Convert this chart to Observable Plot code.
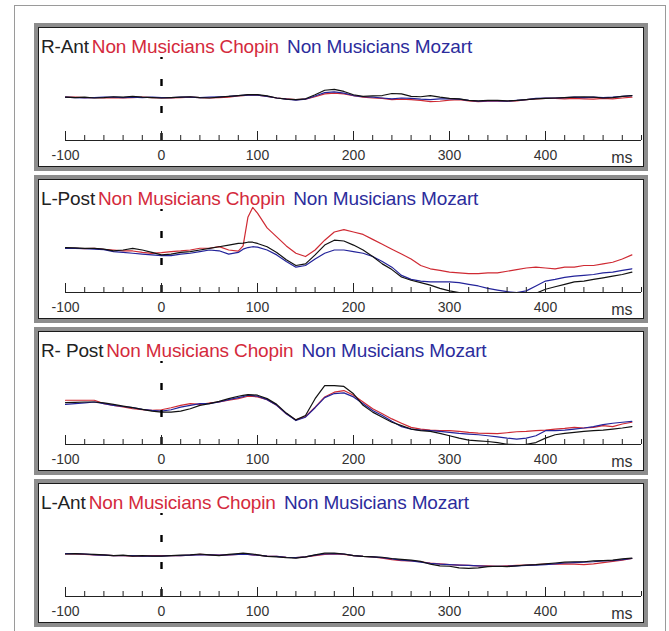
<!DOCTYPE html>
<html><head><meta charset="utf-8">
<script src="https://cdn.jsdelivr.net/npm/d3@7"></script>
<script src="https://cdn.jsdelivr.net/npm/@observablehq/plot@0.6"></script>
<style>
body{margin:0;background:#fff;font-family:"Liberation Sans",Arial,sans-serif;}
#frame{position:absolute;left:14px;top:5px;width:652px;height:700px;border:1px solid #9a9a9a;border-bottom:none;box-sizing:border-box;}
.panel{position:absolute;left:34px;border:4px solid #8d8d8d;}
.inner{position:relative;width:604px;height:138px;border:1px solid #1a1a1a;background:#fff;overflow:hidden;}
.inner svg{position:absolute;left:0;top:0;}
.title{position:absolute;left:2px;top:8px;font-size:19px;line-height:22px;letter-spacing:-0.15px;white-space:nowrap;z-index:2;color:#222;}
.title span+span{margin-left:3px;}
.c{color:#d42a3c}.m{color:#2c2c9c}
</style></head>
<body>
<div id="frame"></div>
<div id="root"></div>
<script>
// time points (ms)
const times = [-100,-90,-80,-70,-60,-50,-40,-30,-20,-10,0,10,20,30,40,50,60,70,80,85,90,95,100,110,120,130,140,150,160,170,180,190,200,210,220,230,240,250,260,270,280,290,300,310,320,330,340,350,360,370,380,390,400,410,420,430,440,450,460,470,480,490];

const panelNames = ["R-Ant", "L-Post", "R- Post", "L-Ant"];
const chopinLabel = "Non Musicians Chopin";
const mozartLabel = "Non Musicians Mozart";
const majorTicks = [-100, 0, 100, 200, 300, 400];
const tickLabels = ["-100", "0", "100", "200", "300", "400"];
const unitLabel = "ms";

// R-Ant
const rAntChopin = [0.1,0.1,0.05,0.05,0.0,0.05,0.0,0.05,0.1,0.05, 0.0,0.0,0.05,0.1,0.05,0.0,0.05,0.1,0.25, 0.3,0.35,0.35, 0.35,0.2,0.0,-0.1,-0.2,-0.15,0.15,0.5,0.6,0.5, 0.3,0.1,0.0,-0.05,-0.2,-0.15,-0.2,-0.3,-0.45,-0.4, -0.25,-0.2,-0.35,-0.45,-0.4,-0.35,-0.4,-0.35,-0.2,-0.1, -0.05,-0.05,-0.1,-0.05,-0.1,-0.15,-0.05,-0.1,0.0,0.1];
const rAntMozart = [0.1,0.05,0.0,0.05,0.1,0.1,0.05,0.1,0.05,0.1, 0.05,0.05,0.1,0.1,0.05,0.1,0.15,0.2,0.3, 0.32,0.35,0.35, 0.35,0.2,0.0,-0.15,-0.25,-0.15,0.25,0.65,0.75,0.6, 0.3,0.15,0.1,0.0,-0.1,0.0,-0.05,-0.15,-0.2,-0.1, -0.1,-0.15,-0.3,-0.4,-0.35,-0.35,-0.4,-0.3,-0.2,-0.05, 0.0,0.0,0.05,0.1,0.05,0.1,0.05,0.1,0.2,0.3];
const rAntBlack = [0.1,0.05,0.1,0.0,0.05,0.15,0.1,0.2,0.1,0.05, 0.0,0.05,0.1,0.15,0.05,0.0,0.1,0.2,0.3, 0.35,0.4,0.4, 0.4,0.25,0.0,-0.15,-0.2,-0.1,0.4,0.95,1.05,0.8, 0.4,0.2,0.25,0.3,0.55,0.5,0.2,0.15,0.3,0.1, -0.05,-0.1,-0.3,-0.35,-0.3,-0.3,-0.35,-0.3,-0.2,-0.1, -0.05,0.0,0.05,0.1,0.15,0.1,0.0,0.05,0.2,0.3];

// L-Post
const lPostChopin = [0.21,0.21,0.17,0.21,0.08,0,-0.12,-0.12,-0.29,-0.41, -0.33,-0.21,-0.12,0,0.21,0.21,0.41,0.0,-0.15, 0.5,4.0,5.2, 4.5,2.7,1.6,0.5,-0.4,-0.8,0,1.2,2.2,2.5, 2.2,1.9,1.3,0.7,0.1,-0.5,-1.1,-1.9,-2.3,-2.5, -2.7,-2.8,-2.9,-2.9,-2.8,-2.8,-2.6,-2.4,-2.2,-2.1, -2.2,-2.3,-2.1,-2.1,-1.9,-1.9,-1.7,-1.5,-1.1,-0.6];
const lPostMozart = [0.2,0.2,0.15,0.1,0.05,-0.2,-0.3,-0.4,-0.5,-0.6, -0.7,-0.7,-0.5,-0.4,-0.2,0,-0.1,-0.5,-0.3, 0.1,0.3,0.4, 0.35,0,-0.6,-1.4,-2.1,-1.9,-1.1,-0.4,0,0, -0.2,-0.4,-0.8,-1.4,-2.1,-3.1,-3.6,-3.8,-3.9,-3.9, -3.9,-4.0,-4.2,-4.4,-4.7,-4.9,-5.1,-5.2,-5.0,-4.4, -3.8,-3.6,-3.35,-3.2,-3.1,-3.0,-2.8,-2.7,-2.5,-2.3];
const lPostBlack = [0.3,0.25,0.2,0.2,0.1,-0.1,0.0,0.2,0.0,-0.3, -0.6,-0.5,-0.3,-0.2,0.0,0.2,0.4,0.6,0.8, 0.85,0.95,0.95, 0.8,0.4,-0.3,-1.2,-1.9,-1.7,-0.6,0.6,1.2,1.1, 0.6,0,-0.8,-1.7,-2.4,-3.3,-3.7,-4.0,-4.3,-4.7, -5.0,-5.2,-5.3,-5.5,-5.6,-5.7,-5.7,-5.6,-5.5,-5.3, -4.8,-4.5,-4.2,-3.9,-3.8,-3.6,-3.4,-3.2,-3.0,-2.7];

// R-Post
const rPostChopin = [0.21,0.21,0.21,0.21,-0.2,-0.41,-0.6,-0.83,-0.95,-1.03, -0.95,-0.70,-0.41,-0.21,-0.29,-0.12,0,0.21,0.41, 0.55,0.70,0.68, 0.62,0.29,-0.41,-1.45,-2.19,-1.78,-0.62,0.62,1.2,1.4, 0.83,0,-0.83,-1.45,-2.07,-2.60,-3.10,-3.31,-3.43,-3.51, -3.51,-3.60,-3.72,-3.80,-3.84,-3.88,-3.76,-3.64,-3.60,-3.51, -3.43,-3.31,-3.22,-3.10,-3.18,-3.10,-2.89,-3.02,-2.69,-2.48];
const rPostMozart = [-0.29,-0.2,-0.1,0,-0.2,-0.41,-0.55,-0.70,-0.9,-1.03, -1.12,-0.95,-0.62,-0.41,-0.21,-0.21,0,0.29,0.54, 0.65,0.83,0.78, 0.70,0.29,-0.41,-1.45,-2.27,-1.86,-0.70,0.54,1.03,1.12, 0.62,-0.21,-1.03,-1.65,-2.36,-3.02,-3.31,-3.43,-3.51,-3.60, -3.72,-3.84,-3.93,-4.01,-4.13,-4.26,-4.42,-4.55,-4.42,-4.13, -3.51,-3.51,-3.43,-3.31,-3.18,-3.02,-2.77,-2.60,-2.48,-2.36];
const rPostBlack = [-0.08,-0.05,0,0,-0.1,-0.29,-0.5,-0.70,-0.9,-1.12, -1.24,-1.24,-1.12,-0.83,-0.41,-0.21,0.08,0.41,0.70, 0.80,0.91,0.88, 0.83,0.41,-0.29,-1.36,-2.19,-1.65,0.4,2.0,2.0,1.9, 1.0,-0.41,-1.24,-1.86,-2.48,-2.89,-3.31,-3.51,-3.60,-3.84, -4.13,-4.42,-4.67,-4.75,-4.83,-4.96,-5.17,-5.2,-5.17,-4.96, -4.42,-4.01,-3.84,-3.72,-3.60,-3.51,-3.43,-3.31,-3.18,-3.02];

// L-Ant
const lAntChopin = [0,0,-0.05,-0.1,-0.15,-0.2,-0.2,-0.25,-0.25,-0.2, -0.2,-0.2,-0.2,-0.15,-0.05,-0.1,-0.15,-0.1,-0.05, 0,-0.05,-0.1, -0.15,-0.25,-0.3,-0.4,-0.45,-0.35,-0.2,-0.05,0.0,-0.05, -0.2,-0.3,-0.35,-0.5,-0.7,-0.8,-0.85,-0.95,-1.1,-1.2, -1.3,-1.35,-1.4,-1.45,-1.45,-1.5,-1.45,-1.4,-1.35,-1.3, -1.25,-1.25,-1.2,-1.25,-1.3,-1.2,-1.05,-0.9,-0.75,-0.55];
const lAntMozart = [0.05,0.05,0,-0.1,-0.15,-0.2,-0.2,-0.2,-0.25,-0.25, -0.25,-0.2,-0.2,-0.15,-0.1,-0.1,-0.15,-0.1,-0.05, -0.05,-0.05,-0.1, -0.15,-0.25,-0.3,-0.4,-0.45,-0.35,-0.15,0.0,0.05,0.0, -0.2,-0.3,-0.35,-0.45,-0.6,-0.75,-0.85,-1.0,-1.15,-1.25, -1.3,-1.35,-1.4,-1.45,-1.5,-1.5,-1.5,-1.45,-1.4,-1.35, -1.3,-1.2,-1.1,-1.05,-1.0,-0.95,-0.85,-0.8,-0.7,-0.55];
const lAntBlack = [0,0.05,0,-0.05,-0.1,-0.21,-0.15,-0.25,-0.2,-0.25, -0.25,-0.2,-0.15,-0.1,0.0,-0.1,-0.2,-0.05,0.05, 0.1,0.05,0.0, -0.1,-0.3,-0.35,-0.45,-0.5,-0.35,-0.1,0.1,0.1,0.0, -0.2,-0.3,-0.35,-0.4,-0.55,-0.65,-0.75,-0.9,-1.25,-1.45, -1.5,-1.7,-1.75,-1.7,-1.55,-1.5,-1.55,-1.45,-1.35,-1.3, -1.2,-1.1,-1.0,-0.95,-0.95,-0.85,-0.8,-0.75,-0.6,-0.5];

const panelSeries = [
  [rAntChopin, rAntMozart, rAntBlack],
  [lPostChopin, lPostMozart, lPostBlack],
  [rPostChopin, rPostMozart, rPostBlack],
  [lAntChopin, lAntMozart, lAntBlack]
];
const lineColors = ["#cf2a33", "#23239a", "#111111"];

const panelTops = [23, 175, 327, 479];
const yMin = -5.2, yMax = 8.5;
const plotH = 138, axisY = 112;
const ppu = axisY / (yMax - yMin);
const minorTicks = d3.range(-100, 501, 20).filter(t => !majorTicks.includes(t));

const root = document.getElementById("root");
panelNames.forEach((name, p) => {
  const panel = document.createElement("div");
  panel.className = "panel";
  panel.style.top = panelTops[p] + "px";
  const inner = document.createElement("div");
  inner.className = "inner";
  panel.appendChild(inner);
  const title = document.createElement("div");
  title.className = "title";
  title.innerHTML = `<span>${name}</span><span class="c">${chopinLabel}</span> <span class="m">${mozartLabel}</span>`;
  inner.appendChild(title);

  const series = panelSeries[p];
  const marks = [];
  series.forEach((vals, s) => {
    const data = times.map((t, i) => ({t, v: vals[i]}));
    marks.push(Plot.line(data, {x: "t", y: "v", stroke: lineColors[s], strokeWidth: 1.2, clip: true}));
  });
  marks.push(Plot.ruleX([0], {y1: yMin, y2: yMin + 83 / ppu, stroke: "#000", strokeWidth: 2.4, strokeDasharray: "7,20"}));
  marks.push(Plot.ruleY([yMin], {stroke: "#222", strokeWidth: 1}));
  marks.push(Plot.ruleX(majorTicks, {x: d => d, y1: yMin, y2: yMin + 9 / ppu, stroke: "#222"}));
  marks.push(Plot.ruleX(minorTicks, {x: d => d, y1: yMin, y2: yMin + 5 / ppu, stroke: "#222"}));
  marks.push(Plot.axisX(majorTicks, {tickSize: 0, tickPadding: 10, label: null, tickFormat: (d, i) => tickLabels[i], fontSize: 14, fill: "#333"}));
  marks.push(Plot.text([unitLabel], {frameAnchor: "bottom-right", dx: -9, dy: 17, fontSize: 16, textAnchor: "end", lineAnchor: "middle", fill: "#333"}));

  const svg = Plot.plot({
    width: 604, height: plotH,
    marginLeft: 26, marginRight: 2, marginTop: 0, marginBottom: plotH - axisY,
    x: {domain: [-100, 500], axis: null, label: null},
    y: {domain: [yMin, yMax], axis: null, label: null},
    style: {fontFamily: "'Liberation Sans', Arial, sans-serif", background: "transparent", overflow: "visible"},
    marks
  });
  inner.appendChild(svg);
  root.appendChild(panel);
});
</script>
</body></html>
